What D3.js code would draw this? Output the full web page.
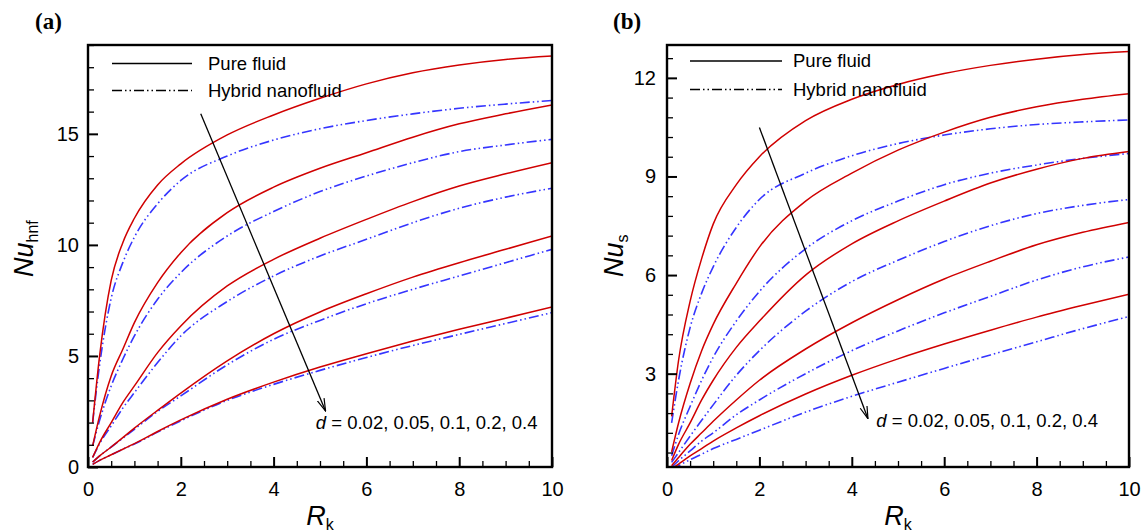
<!DOCTYPE html>
<html>
<head>
<meta charset="utf-8">
<script src="https://cdn.jsdelivr.net/npm/d3@7"></script>
<style>
  body { margin: 0; background: #fff; }
  text { font-family: "Liberation Sans", Arial, sans-serif; }
</style>
</head>
<body>
<script>
// R_k values where the curves were read
var rk = [0.1, 0.25, 0.5, 0.75, 1, 1.5, 2, 3, 4, 5, 6, 7, 8, 9, 10];
var dValues = ["0.02", "0.05", "0.1", "0.2", "0.4"];

// panel (a): Nu_hnf, one row per d
var nuHnfPure = [
  [2.0, 5.0, 8.4, 10.1, 11.2, 12.7, 13.65, 14.95, 15.85, 16.6, 17.25, 17.75, 18.1, 18.35, 18.5],
  [0.95, 2.3, 4.1, 5.3, 6.5, 8.3, 9.65, 11.45, 12.6, 13.45, 14.15, 14.85, 15.45, 15.9, 16.3],
  [0.43, 1.1, 2.0, 2.9, 3.65, 5.15, 6.35, 8.15, 9.35, 10.3, 11.15, 11.95, 12.65, 13.2, 13.7],
  [0.22, 0.5, 0.9, 1.32, 1.75, 2.55, 3.33, 4.78, 6.0, 6.98, 7.8, 8.55, 9.2, 9.8, 10.4],
  [0.12, 0.3, 0.55, 0.8, 1.05, 1.6, 2.12, 3.05, 3.82, 4.5, 5.1, 5.67, 6.2, 6.7, 7.2]
];
var nuHnfHybrid = [
  [2.0, 4.6, 7.6, 9.2, 10.35, 11.85, 12.9, 14.0, 14.72, 15.23, 15.6, 15.9, 16.15, 16.34, 16.5],
  [0.95, 2.1, 3.65, 4.85, 5.9, 7.55, 8.75, 10.4, 11.5, 12.4, 13.1, 13.7, 14.2, 14.5, 14.75],
  [0.43, 1.05, 1.85, 2.65, 3.35, 4.7, 5.9, 7.45, 8.6, 9.5, 10.25, 11.0, 11.65, 12.15, 12.55],
  [0.22, 0.5, 0.9, 1.3, 1.7, 2.5, 3.2, 4.6, 5.75, 6.6, 7.35, 8.0, 8.6, 9.2, 9.8],
  [0.12, 0.3, 0.55, 0.8, 1.03, 1.57, 2.08, 3.0, 3.72, 4.35, 4.93, 5.47, 5.97, 6.46, 6.95]
];

// panel (b): Nu_s
var nuSPure = [
  [1.7, 3.4, 5.2, 6.5, 7.55, 8.75, 9.6, 10.7, 11.35, 11.8, 12.13, 12.38, 12.57, 12.71, 12.8],
  [0.62, 1.5, 2.7, 3.7, 4.5, 5.75, 6.85, 8.25, 9.1, 9.8, 10.35, 10.8, 11.12, 11.35, 11.52],
  [0.36, 0.85, 1.5, 2.2, 2.8, 3.8, 4.6, 6.0, 6.95, 7.65, 8.25, 8.8, 9.22, 9.55, 9.76],
  [0.2, 0.45, 0.85, 1.2, 1.55, 2.2, 2.8, 3.75, 4.55, 5.25, 5.88, 6.42, 6.92, 7.3, 7.6],
  [0.1, 0.25, 0.5, 0.72, 0.95, 1.35, 1.72, 2.38, 2.95, 3.45, 3.9, 4.32, 4.72, 5.08, 5.42]
];
var nuSHybrid = [
  [1.5, 2.8, 4.4, 5.45, 6.25, 7.45, 8.3, 9.1, 9.63, 10.0, 10.26, 10.45, 10.58, 10.66, 10.72],
  [0.5, 1.15, 2.0, 2.8, 3.5, 4.6, 5.5, 6.8, 7.65, 8.25, 8.75, 9.1, 9.35, 9.55, 9.7],
  [0.3, 0.6, 1.1, 1.58, 2.05, 2.95, 3.7, 4.9, 5.8, 6.45, 7.02, 7.5, 7.87, 8.12, 8.3],
  [0.15, 0.35, 0.65, 0.95, 1.2, 1.75, 2.2, 3.0, 3.7, 4.3, 4.85, 5.35, 5.85, 6.25, 6.55],
  [0.08, 0.2, 0.38, 0.55, 0.72, 1.0, 1.28, 1.83, 2.31, 2.74, 3.16, 3.57, 3.97, 4.37, 4.74]
];

var xTicks = [0, 2, 4, 6, 8, 10];
var yTicksA = [0, 5, 10, 15];
var yTicksB = [3, 6, 9, 12];

var red = "#d00000", blue = "#3535ff";
var dash = "10,3,1.5,3,1.5,3";

var svg = d3.select("body").append("svg")
    .attr("width", 1145)
    .attr("height", 532);

var defs = svg.append("defs");
defs.append("marker")
    .attr("id", "arrow")
    .attr("viewBox", "0 -5 13 10")
    .attr("refX", 12.5).attr("refY", 0)
    .attr("markerWidth", 13).attr("markerHeight", 10)
    .attr("markerUnits", "userSpaceOnUse")
    .attr("orient", "auto")
  .append("path")
    .attr("d", "M0,-3.6L12.5,0L0,3.6")
    .attr("fill", "none")
    .attr("stroke", "#000")
    .attr("stroke-width", 1.2);

function drawPanel(p) {
    var g = svg.append("g");
    var x = d3.scaleLinear().domain([0, 10]).range([p.x0, p.x1]);
    var y = d3.scaleLinear().domain(p.yDomain).range([p.y1, p.y0]);

    defs.append("clipPath").attr("id", "clip-" + p.id)
      .append("rect")
        .attr("x", p.x0).attr("y", p.y0)
        .attr("width", p.x1 - p.x0).attr("height", p.y1 - p.y0);

    var line = d3.line()
        .x(function (d, i) { return x(rk[i]); })
        .y(function (d) { return y(d); })
        .curve(d3.curveMonotoneX);

    var curves = g.append("g").attr("clip-path", "url(#clip-" + p.id + ")");
    curves.selectAll(".hyb").data(p.hybrid).enter().append("path")
        .attr("class", "hyb")
        .attr("d", line)
        .attr("fill", "none")
        .attr("stroke", blue)
        .attr("stroke-width", 1.6)
        .attr("stroke-dasharray", dash);
    curves.selectAll(".pure").data(p.pure).enter().append("path")
        .attr("class", "pure")
        .attr("d", line)
        .attr("fill", "none")
        .attr("stroke", red)
        .attr("stroke-width", 1.5);

    // minor ticks
    var xMinor = d3.range(1, 20).filter(function (i) { return i % 4 != 0; }).map(function (i) { return i * 0.5; });
    g.append("g").attr("transform", "translate(0," + p.y1 + ")")
        .call(d3.axisBottom(x).tickValues(xMinor).tickSize(-6).tickSizeOuter(0).tickFormat(""))
        .call(function (a) { a.select(".domain").remove(); })
        .selectAll("line").attr("stroke-width", 1.3);
    g.append("g").attr("transform", "translate(" + p.x0 + ",0)")
        .call(d3.axisLeft(y).tickValues(p.yMinor).tickSize(-6).tickSizeOuter(0).tickFormat(""))
        .call(function (a) { a.select(".domain").remove(); })
        .selectAll("line").attr("stroke-width", 1.3);

    // major ticks + labels
    var xa = g.append("g").attr("transform", "translate(0," + p.y1 + ")")
        .call(d3.axisBottom(x).tickValues(xTicks).tickSize(-10).tickSizeOuter(0).tickPadding(15))
        .attr("font-size", 20);
    xa.select(".domain").remove();
    xa.selectAll("line").attr("stroke-width", 2);

    var ya = g.append("g").attr("transform", "translate(" + p.x0 + ",0)")
        .call(d3.axisLeft(y).tickValues(p.yTicks).tickSize(-10).tickSizeOuter(0).tickPadding(p.yPad))
        .attr("font-size", 20);
    ya.select(".domain").remove();
    ya.selectAll("line").attr("stroke-width", 2);

    // frame
    g.append("rect")
        .attr("x", p.x0).attr("y", p.y0)
        .attr("width", p.x1 - p.x0).attr("height", p.y1 - p.y0)
        .attr("fill", "none")
        .attr("stroke", "#000")
        .attr("stroke-width", 2.4);

    // axis titles
    var xt = g.append("text")
        .attr("x", (p.x0 + p.x1) / 2)
        .attr("y", 525)
        .attr("text-anchor", "middle")
        .attr("font-size", 27);
    xt.append("tspan").attr("font-style", "italic").text("R");
    xt.append("tspan").attr("font-size", 16).attr("dy", 5).text("k");

    var yt = g.append("text")
        .attr("transform", "translate(" + p.yTitleX + ",277) rotate(-90)")
        .attr("font-size", 27);
    yt.append("tspan").attr("font-style", "italic").text("Nu");
    yt.append("tspan").attr("font-size", 16).attr("dy", 5).text(p.sub);

    // panel letter (serif, bold)
    g.append("text")
        .attr("x", p.labelX).attr("y", 29)
        .style("font-family", "'Liberation Serif', 'Times New Roman', serif")
        .attr("font-weight", "bold")
        .attr("font-size", 23)
        .text(p.label);

    // legend
    var rows = [{ name: "Pure fluid", dash: null, y: p.legY[0] },
                { name: "Hybrid nanofluid", dash: dash, y: p.legY[1] }];
    rows.forEach(function (r) {
        g.append("line")
            .attr("x1", p.legX[0]).attr("x2", p.legX[1])
            .attr("y1", r.y).attr("y2", r.y)
            .attr("stroke", "#000")
            .attr("stroke-width", 1.3)
            .attr("stroke-dasharray", r.dash);
        g.append("text")
            .attr("x", p.legX[2]).attr("y", r.y)
            .attr("dy", "0.35em")
            .attr("font-size", 18.5)
            .text(r.name);
    });

    // arrow showing increasing d
    g.append("line")
        .attr("x1", x(p.arrow[0][0])).attr("y1", y(p.arrow[0][1]))
        .attr("x2", x(p.arrow[1][0])).attr("y2", y(p.arrow[1][1]))
        .attr("stroke", "#000")
        .attr("stroke-width", 1.3)
        .attr("marker-end", "url(#arrow)");

    var note = g.append("text")
        .attr("x", x(p.note[0])).attr("y", y(p.note[1]))
        .attr("font-size", 18.5);
    note.append("tspan").attr("font-style", "italic").text("d");
    note.append("tspan").text(" = " + dValues.join(", "));
}

drawPanel({
    id: "a", label: "(a)", labelX: 35, sub: "hnf",
    x0: 88, x1: 552, y0: 45, y1: 467,
    yDomain: [0, 19], yTicks: yTicksA, yPad: 9,
    yMinor: d3.range(1, 20).filter(function (v) { return v % 5 != 0; }),
    pure: nuHnfPure, hybrid: nuHnfHybrid,
    yTitleX: 33,
    legX: [112, 192, 208], legY: [63.5, 90.5],
    arrow: [[2.43, 15.9], [5.12, 2.52]],
    note: [4.91, 1.7]
});

drawPanel({
    id: "b", label: "(b)", labelX: 613, sub: "s",
    x0: 667, x1: 1129, y0: 45, y1: 467,
    yDomain: [0.16, 13], yTicks: yTicksB, yPad: 11,
    yMinor: d3.range(1, 22).filter(function (i) { return i % 5 != 0; }).map(function (i) { return i * 0.6; }),
    pure: nuSPure, hybrid: nuSHybrid,
    yTitleX: 623,
    legX: [690, 782, 793], legY: [61, 89.5],
    arrow: [[2.0, 10.49], [4.35, 1.63]],
    note: [4.53, 1.37]
});
</script>
</body>
</html>
